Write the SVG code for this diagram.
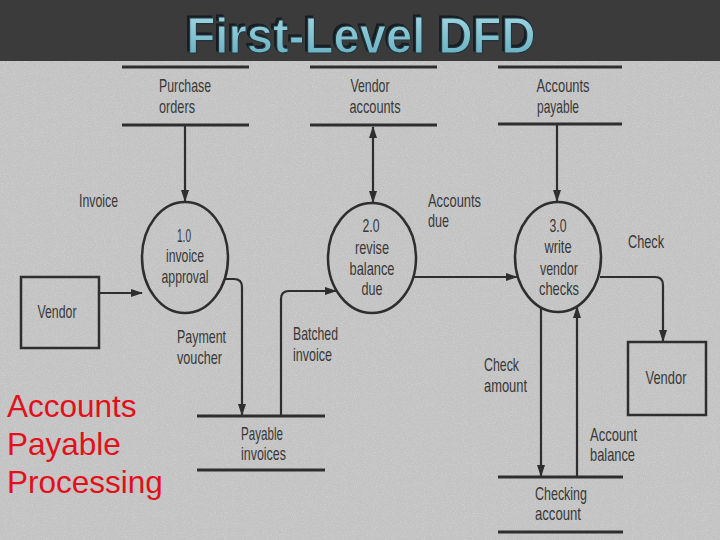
<svg xmlns="http://www.w3.org/2000/svg" width="720" height="540" viewBox="0 0 720 540">
<defs>
<filter id="noise" x="0" y="0" width="100%" height="100%">
<feTurbulence type="fractalNoise" baseFrequency="0.9" numOctaves="2" seed="3" result="t"/>
<feColorMatrix type="matrix" values="0 0 0 0 0.85  0 0 0 0 0.85  0 0 0 0 0.85  0 0 0 1.6 -0.75"/>
</filter>
<filter id="shadow" x="-5%" y="-20%" width="110%" height="140%">
<feOffset in="SourceAlpha" dx="-2.5" dy="-2" result="o"/>
<feFlood flood-color="#141c20"/>
<feComposite in2="o" operator="in" result="s"/>
<feMerge><feMergeNode in="s"/><feMergeNode in="SourceGraphic"/></feMerge>
</filter>
<linearGradient id="tg" x1="0" y1="0" x2="0" y2="1">
<stop offset="0" stop-color="#a8dbe6"/>
<stop offset="1" stop-color="#5ea9bc"/>
</linearGradient>
<marker id="ah" markerUnits="userSpaceOnUse" markerWidth="12" markerHeight="8" refX="11" refY="4" orient="auto-start-reverse" viewBox="0 0 12 8">
<path d="M0,0 L12,4 L0,8 z" fill="#2e2e2e"/>
</marker>
<style>
.lbl{font-family:"Liberation Sans",Arial,sans-serif;font-size:19px;fill:#383838;}
.c{text-anchor:middle;}
.store{stroke:#2e2e2e;stroke-width:3;fill:none;}
.proc{stroke:#2e2e2e;stroke-width:2.5;fill:none;}
.ent{stroke:#2e2e2e;stroke-width:2.5;fill:none;}
.flow{stroke:#2e2e2e;stroke-width:2.2;fill:none;}
.red{font-family:"Liberation Sans",Arial,sans-serif;font-size:31.5px;fill:#e3101a;}
</style>
</defs>
<rect x="0" y="0" width="720" height="540" fill="#c3c3c3"/>
<rect x="0" y="61" width="720" height="479" filter="url(#noise)" opacity="0.5"/>
<rect x="0" y="0" width="720" height="61" fill="#3b3b3b"/>
<g id="title">
<text x="361" y="53" font-family="Liberation Sans,Arial,sans-serif" font-weight="bold" font-size="50" text-anchor="middle" textLength="349" lengthAdjust="spacingAndGlyphs" fill="url(#tg)" stroke="#24363c" stroke-width="1.2" filter="url(#shadow)">First-Level DFD</text>
</g>

<g id="connectors">
<path class="flow" d="M185,125 V201" marker-end="url(#ah)"/>
<path class="flow" d="M99,293 H142" marker-end="url(#ah)"/>
<path class="flow" d="M225,279 H234 Q242,279 242,287 V415" marker-end="url(#ah)"/>
<path class="flow" d="M281,416 V299 Q281,291 289,291 H336" marker-end="url(#ah)"/>
<path class="flow" d="M373,127 V202" marker-start="url(#ah)" marker-end="url(#ah)"/>
<path class="flow" d="M414,277 H517" marker-end="url(#ah)"/>
<path class="flow" d="M557,124 V201" marker-end="url(#ah)"/>
<path class="flow" d="M600,277 H655 Q663,277 663,285 V341" marker-end="url(#ah)"/>
<path class="flow" d="M541,307 V476" marker-end="url(#ah)"/>
<path class="flow" d="M577,476 V307" marker-end="url(#ah)"/>
</g>

<g id="store-purchase-orders">
<line class="store" x1="122" y1="67" x2="249" y2="67"/>
<line class="store" x1="122" y1="125" x2="249" y2="125"/>
<text class="lbl c" x="185" y="92" textLength="52" lengthAdjust="spacingAndGlyphs">Purchase</text>
<text class="lbl c" x="177" y="113" textLength="36" lengthAdjust="spacingAndGlyphs">orders</text>
</g>
<g id="store-vendor-accounts">
<line class="store" x1="310" y1="67" x2="437" y2="67"/>
<line class="store" x1="310" y1="125" x2="437" y2="125"/>
<text class="lbl c" x="370" y="92" textLength="39" lengthAdjust="spacingAndGlyphs">Vendor</text>
<text class="lbl c" x="375" y="113" textLength="51" lengthAdjust="spacingAndGlyphs">accounts</text>
</g>
<g id="store-accounts-payable">
<line class="store" x1="498" y1="67" x2="622" y2="67"/>
<line class="store" x1="498" y1="124" x2="622" y2="124"/>
<text class="lbl c" x="563" y="92" textLength="53" lengthAdjust="spacingAndGlyphs">Accounts</text>
<text class="lbl c" x="558" y="113" textLength="42" lengthAdjust="spacingAndGlyphs">payable</text>
</g>
<g id="store-payable-invoices">
<line class="store" x1="197" y1="416" x2="325" y2="416"/>
<line class="store" x1="197" y1="470" x2="325" y2="470"/>
<text class="lbl" x="241" y="440" textLength="42" lengthAdjust="spacingAndGlyphs">Payable</text>
<text class="lbl" x="241" y="460" textLength="45" lengthAdjust="spacingAndGlyphs">invoices</text>
</g>
<g id="store-checking-account">
<line class="store" x1="498" y1="477" x2="623" y2="477"/>
<line class="store" x1="498" y1="532" x2="623" y2="532"/>
<text class="lbl" x="535" y="500" textLength="52" lengthAdjust="spacingAndGlyphs">Checking</text>
<text class="lbl" x="535" y="520" textLength="46" lengthAdjust="spacingAndGlyphs">account</text>
</g>

<g id="proc-1">
<ellipse class="proc" cx="185" cy="257.5" rx="43" ry="55.5"/>
<text class="lbl c" x="184" y="242" textLength="14" lengthAdjust="spacingAndGlyphs">1.0</text>
<text class="lbl c" x="185" y="262" textLength="38" lengthAdjust="spacingAndGlyphs">invoice</text>
<text class="lbl c" x="185" y="283" textLength="47" lengthAdjust="spacingAndGlyphs">approval</text>
</g>
<g id="proc-2">
<ellipse class="proc" cx="372" cy="258" rx="44" ry="55"/>
<text class="lbl c" x="371" y="232" textLength="17" lengthAdjust="spacingAndGlyphs">2.0</text>
<text class="lbl c" x="372" y="254" textLength="34" lengthAdjust="spacingAndGlyphs">revise</text>
<text class="lbl c" x="372" y="275" textLength="45" lengthAdjust="spacingAndGlyphs">balance</text>
<text class="lbl c" x="372" y="295" textLength="21" lengthAdjust="spacingAndGlyphs">due</text>
</g>
<g id="proc-3">
<ellipse class="proc" cx="558" cy="257" rx="43" ry="55"/>
<text class="lbl c" x="558" y="232" textLength="17" lengthAdjust="spacingAndGlyphs">3.0</text>
<text class="lbl c" x="558" y="253" textLength="27" lengthAdjust="spacingAndGlyphs">write</text>
<text class="lbl c" x="559" y="275" textLength="38" lengthAdjust="spacingAndGlyphs">vendor</text>
<text class="lbl c" x="559" y="295" textLength="40" lengthAdjust="spacingAndGlyphs">checks</text>
</g>
<g id="entity-vendor-left">
<rect class="ent" x="21" y="277" width="78" height="71"/>
<text class="lbl c" x="57" y="318" textLength="39" lengthAdjust="spacingAndGlyphs">Vendor</text>
</g>
<g id="entity-vendor-right">
<rect class="ent" x="628" y="342" width="78" height="73"/>
<text class="lbl c" x="666" y="384" textLength="41" lengthAdjust="spacingAndGlyphs">Vendor</text>
</g>

<g id="flow-labels">
<text class="lbl" x="79" y="207" textLength="39" lengthAdjust="spacingAndGlyphs">Invoice</text>
<text class="lbl" x="177" y="343" textLength="49" lengthAdjust="spacingAndGlyphs">Payment</text>
<text class="lbl" x="177" y="364" textLength="45" lengthAdjust="spacingAndGlyphs">voucher</text>
<text class="lbl" x="293" y="340" textLength="45" lengthAdjust="spacingAndGlyphs">Batched</text>
<text class="lbl" x="293" y="361" textLength="39" lengthAdjust="spacingAndGlyphs">invoice</text>
<text class="lbl" x="428" y="207" textLength="53" lengthAdjust="spacingAndGlyphs">Accounts</text>
<text class="lbl" x="428" y="227" textLength="21" lengthAdjust="spacingAndGlyphs">due</text>
<text class="lbl" x="628" y="248" textLength="36" lengthAdjust="spacingAndGlyphs">Check</text>
<text class="lbl" x="484" y="371" textLength="35" lengthAdjust="spacingAndGlyphs">Check</text>
<text class="lbl" x="484" y="392" textLength="43" lengthAdjust="spacingAndGlyphs">amount</text>
<text class="lbl" x="590" y="441" textLength="47" lengthAdjust="spacingAndGlyphs">Account</text>
<text class="lbl" x="590" y="461" textLength="45" lengthAdjust="spacingAndGlyphs">balance</text>
</g>

<g id="caption">
<text class="red" x="7" y="417">Accounts</text>
<text class="red" x="7" y="455">Payable</text>
<text class="red" x="7" y="493">Processing</text>
</g>
</svg>
